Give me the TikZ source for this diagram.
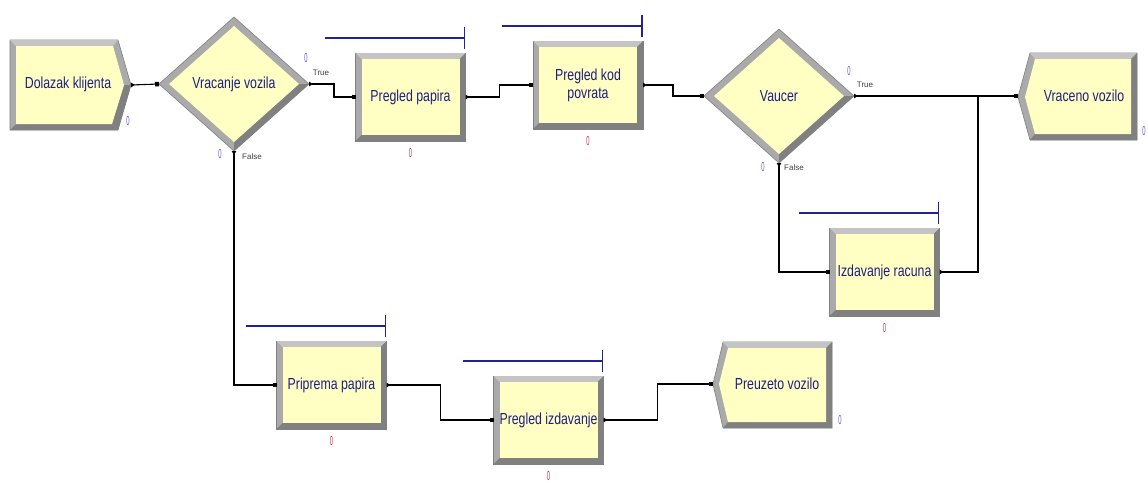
\documentclass[tikz,border=0pt]{standalone}
\usepackage{fontspec}
\setmainfont{Liberation Sans}
\newfontfamily\modfont[FakeStretch=0.77]{Liberation Sans}
\newfontfamily\cntfont[FakeStretch=0.45]{Liberation Sans}
\usetikzlibrary{shapes.geometric,arrows.meta,calc}
\definecolor{fillyel}{RGB}{255,255,196}
\definecolor{bev}{RGB}{170,170,170}
\definecolor{bevdk}{RGB}{128,128,128}
\definecolor{bevlt}{RGB}{196,196,196}
\definecolor{txtblue}{RGB}{30,30,130}
\definecolor{barblue}{RGB}{35,35,150}
\definecolor{cntpur}{RGB}{110,90,200}
\definecolor{cntred}{RGB}{200,60,60}
\newcommand{\arenaproc}[3]{%
  \node[pout] (#1) at (#2) {};
  \fill[bevlt] (#1.north west) -- (#1.north east) -- ++(-6,6) -- ($(#1.north west)+(6,6)$) -- cycle;
  \fill[bevdk] (#1.south west) -- (#1.south east) -- ++(-6,-6) -- ($(#1.south west)+(6,-6)$) -- cycle;
  \fill[bevdk] (#1.north east) -- (#1.south east) -- ++(-6,-6) -- ($(#1.north east)+(-6,6)$) -- cycle;
  \node[pin] (#1t) at (#1) {#3};
  \draw[resbar] ($(#1.north west)+(-31,-15)$) -- ($(#1.north east)+(-1,-15)$);
  \draw[resbar] ($(#1.north east)+(-1,-26)$) -- ($(#1.north east)+(-1,-4)$);
  \node[cntr] (#1c) at ($(#1.south)+(0,12)$) {0};
}
\begin{document}
\begin{tikzpicture}[x=1pt,y=-1pt,
  pout/.style={rectangle,minimum width=110pt,minimum height=88pt,fill=bev,draw=bevdk,line width=0.6pt,inner sep=0pt,outer sep=0pt},
  pin/.style={rectangle,minimum width=98pt,minimum height=76pt,fill=fillyel,inner sep=0pt,outer sep=0pt,text=txtblue,font=\modfont\fontsize{16}{18}\selectfont,align=center},
  dout/.style={diamond,minimum width=150pt,minimum height=134pt,fill=bev,draw=bevdk,line width=0.6pt,inner sep=0pt,outer sep=0pt},
  din/.style={diamond,minimum width=130pt,minimum height=116pt,fill=fillyel,inner sep=0pt,outer sep=0pt},
  lbl/.style={text=txtblue,font=\modfont\fontsize{16}{18}\selectfont,align=center,inner sep=0pt},
  cntp/.style={text=cntpur,font=\cntfont\fontsize{13}{13}\selectfont,inner sep=0pt},
  cntr/.style={text=cntred,font=\cntfont\fontsize{13}{13}\selectfont,inner sep=0pt},
  tf/.style={text=black!75,font=\fontsize{8}{8}\selectfont,inner sep=0pt},
  conn/.style={line width=1.1pt,{Triangle[reversed,length=4pt,width=4.5pt]}-{Square[length=4pt,width=4.5pt]}},
  connx/.style={line width=1.1pt,{Triangle[reversed,length=4pt,width=4.5pt]}-},
  resbar/.style={barblue,line width=1.2pt},
  shp/.style={fill=bev,draw=bevdk,line width=0.6pt}
]
\useasboundingbox (0,0) rectangle (1148,482);
\fill[white] (0,0) rectangle (1148,482);

% Create: Dolazak klijenta
\path[shp] (10,40) -- (118,40) -- (131,85) -- (118,130) -- (10,130) -- cycle;
\fill[bevlt] (10,40) -- (118,40) -- (113,46) -- (16,46) -- cycle;
\fill[bevdk] (10,130) -- (118,130) -- (112,124) -- (16,124) -- cycle;
\fill[bevdk] (118,130) -- (131,85) -- (124,85) -- (112,124) -- cycle;
\fill[fillyel] (16,46) -- (113,46) -- (124,85) -- (112,124) -- (16,124) -- cycle;
\node[lbl] (dk) at (68,84) {Dolazak klijenta};
\coordinate (dkout) at (131,85);
\node[cntp] (dkc) at (128,121) {0};

% Decide: Vracanje vozila
\node[dout] (d1) at (234,84) {};
\fill[bevdk] (d1.east) -- (d1.south) -- ($(d1.south)+(0,-9)$) -- ($(d1.east)+(-10,0)$) -- cycle;
\node[din] (d1i) at (d1) {};
\node[lbl] (d1t) at (d1) {Vracanje vozila};
\node[cntp] (d1c1) at (306,58) {0};
\node[tf] (d1true) at (321,73) {True};
\node[cntp] (d1c2) at (220,154) {0};
\node[tf] (d1false) at (252,157) {False};

% Decide: Vaucer
\node[dout] (d2) at (779,96) {};
\fill[bevdk] (d2.east) -- (d2.south) -- ($(d2.south)+(0,-9)$) -- ($(d2.east)+(-10,0)$) -- cycle;
\node[din] (d2i) at (d2) {};
\node[lbl] (d2t) at (d2) {Vaucer};
\node[cntp] (d2c1) at (849,71) {0};
\node[tf] (d2true) at (865,85) {True};
\node[cntp] (d2c2) at (763,167) {0};
\node[tf] (d2false) at (794,168) {False};

% Processes
\arenaproc{pp}{410.5,97}{Pregled papira}
\arenaproc{pk}{588,85}{Pregled kod\\povrata}
\arenaproc{ir}{884.5,272}{Izdavanje racuna}
\arenaproc{prip}{331.5,385}{Priprema papira}
\arenaproc{pi}{548.5,420}{Pregled izdavanje}

% Dispose: Vraceno vozilo
\path[shp] (1018,97) -- (1030,53) -- (1137,53) -- (1137,140) -- (1030,140) -- cycle;
\fill[bevlt] (1030,53) -- (1137,53) -- (1131,59) -- (1035,59) -- cycle;
\fill[bevdk] (1030,140) -- (1137,140) -- (1131,134) -- (1035,134) -- cycle;
\fill[bevdk] (1137,53) -- (1137,140) -- (1131,134) -- (1131,59) -- cycle;
\fill[fillyel] (1025,97) -- (1035,59) -- (1131,59) -- (1131,134) -- (1035,134) -- cycle;
\node[lbl] (vv) at (1084,96) {Vraceno vozilo};
\coordinate (vvin) at (1018,96);
\node[cntp] (vvc) at (1144,131) {0};

% Dispose: Preuzeto vozilo
\path[shp] (713,384) -- (723,342) -- (832,342) -- (832,428) -- (723,428) -- cycle;
\fill[bevlt] (723,342) -- (832,342) -- (826,348) -- (728,348) -- cycle;
\fill[bevdk] (723,428) -- (832,428) -- (826,422) -- (728,422) -- cycle;
\fill[bevdk] (832,342) -- (832,428) -- (826,422) -- (826,348) -- cycle;
\fill[fillyel] (719,384) -- (728,348) -- (826,348) -- (826,422) -- (728,422) -- cycle;
\node[lbl] (pv) at (777,384) {Preuzeto vozilo};
\coordinate (pvin) at (713,384);
\node[cntp] (pvc) at (840,420) {0};

% Connectors
\coordinate (jn) at (978,96);
\draw[conn] (dkout) -- (d1.west);
\draw[conn] (d1.east) -- ++(25,0) |- (pp.west);
\draw[conn] (d1.south) |- (prip.west);
\draw[conn] (pp.east) -- ++(34,0) |- (pk.west);
\draw[conn] (pk.east) -- ++(30,0) |- (d2.west);
\draw[conn] (d2.east) -- (vvin);
\draw[conn] (d2.south) |- (ir.west);
\draw[connx] (ir.east) -| (jn);
\draw[conn] (prip.east) -- ++(54,0) |- (pi.west);
\draw[conn] (pi.east) -- ++(54,0) |- (pvin);
\end{tikzpicture}
\end{document}
